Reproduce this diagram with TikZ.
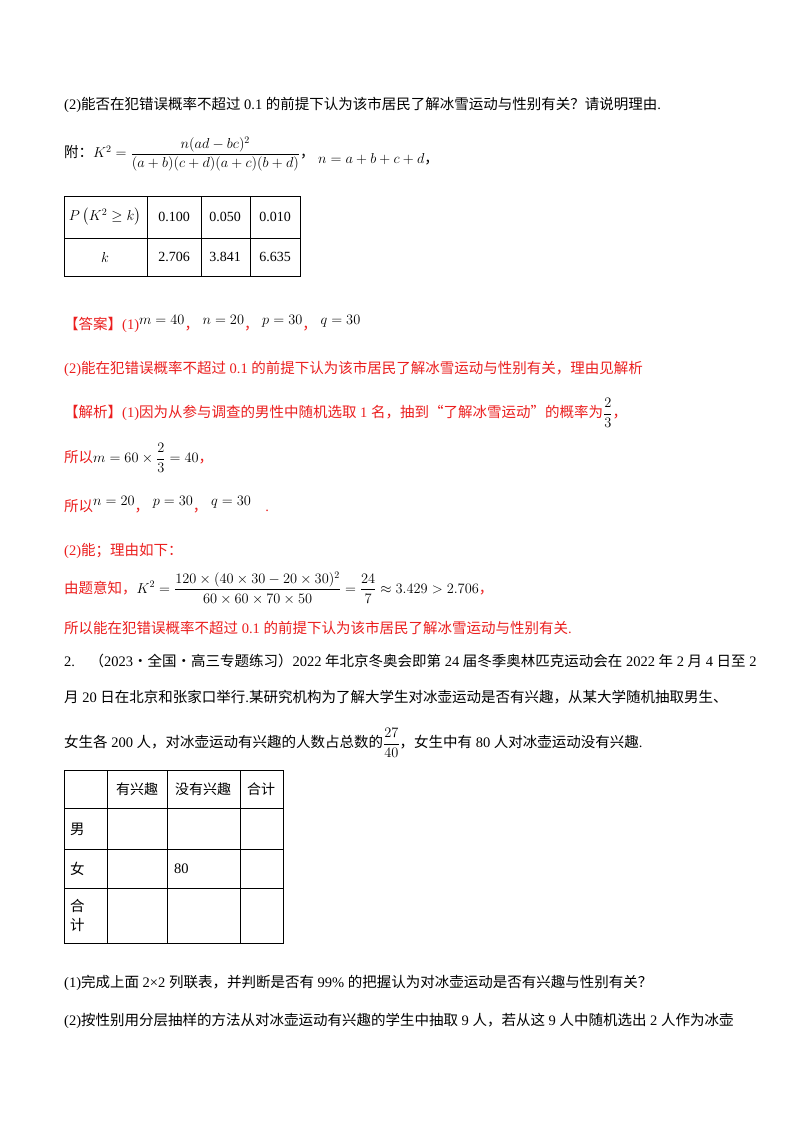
\documentclass[tikz,border=0pt]{standalone}
\usepackage{amsmath}
\usepackage{fontspec}
\setmainfont{Liberation Serif}
\newfontfamily\cjk{Noto Sans CJK SC}
\definecolor{ans}{RGB}{235,30,30}
\newcommand{\zh}[1]{{\cjk #1}}
\begin{document}
\begin{tikzpicture}[x=1pt,y=-1pt,
  t/.style={anchor=west,inner sep=0pt,font=\fontsize{14.5}{17}\selectfont},
  r/.style={t,text=ans},
  c/.style={inner sep=0pt,font=\fontsize{14}{16}\selectfont}]
\useasboundingbox (0,0) rectangle (800,1132);
\fill[white] (0,0) rectangle (800,1132);
\node[t] (l1) at (64,105) {(2)\zh{能否在犯错误概率不超过} 0.1 \zh{的前提下认为该市居民了解冰雪运动与性别有关？请说明理由}.};
\node[t] (l2) at (64,154) {\zh{附：}$K^2=\dfrac{n(ad-bc)^2}{(a+b)(c+d)(a+c)(b+d)}$\zh{，}\ \raisebox{-6pt}{$n=a+b+c+d$\zh{，}}};
% table 1
\draw[line width=0.8pt] (64,196) rectangle (300,276);
\draw (147,196)--(147,276) (201,196)--(201,276) (250,196)--(250,276) (64,238)--(300,238);
\node[c] (a1) at (105,217) {$P\left(K^2\geq k\right)$};
\node[c] (a2) at (174,217) {0.100};
\node[c] (a3) at (225,217) {0.050};
\node[c] (a4) at (275,217) {0.010};
\node[c] (b1) at (105,257) {$k$};
\node[c] (b2) at (174,257) {2.706};
\node[c] (b3) at (225,257) {3.841};
\node[c] (b4) at (275,257) {6.635};
\node[r] (ans) at (64,324) {\zh{【答案】}(1)\raisebox{5pt}{\textcolor{black}{$m=40$}}\zh{，}\ \raisebox{5pt}{\textcolor{black}{$n=20$}}\zh{，}\ \raisebox{5pt}{\textcolor{black}{$p=30$}}\zh{，}\ \raisebox{5pt}{\textcolor{black}{$q=30$}}};
\node[r] (a2l) at (64,369) {(2)\zh{能在犯错误概率不超过} 0.1 \zh{的前提下认为该市居民了解冰雪运动与性别有关，理由见解析}};
\node[r] (jx) at (64,413) {\zh{【解析】}(1)\zh{因为从参与调查的男性中随机选取} 1 \zh{名，抽到“了解冰雪运动”的概率为}\textcolor{black}{$\dfrac{2}{3}$}\zh{，}};
\node[r] (s1) at (64,458) {\zh{所以}\textcolor{black}{$m=60\times\dfrac{2}{3}=40$}\zh{，}};
\node[r] (s2) at (64,505) {\zh{所以}\raisebox{6pt}{\textcolor{black}{$n=20$}}\zh{，}\ \raisebox{6pt}{\textcolor{black}{$p=30$}}\zh{，}\ \raisebox{6pt}{\textcolor{black}{$q=30$}}\quad.};
\node[r] (s3) at (64,551) {(2)\zh{能；理由如下：}};
\node[r] (s4) at (64,588) {\zh{由题意知，}\textcolor{black}{$K^2=\dfrac{120\times(40\times30-20\times30)^2}{60\times60\times70\times50}=\dfrac{24}{7}\approx3.429>2.706$}\zh{，}};
\node[r] (s5) at (64,628) {\zh{所以能在犯错误概率不超过} 0.1 \zh{的前提下认为该市居民了解冰雪运动与性别有关}.};
\node[t] (q2) at (64,661) {2.\quad\zh{（}2023\zh{·全国·高三专题练习）}2022 \zh{年北京冬奥会即第} 24 \zh{届冬季奥林匹克运动会在} 2022 \zh{年} 2 \zh{月} 4 \zh{日至} 2};
\node[t] (q2b) at (64,697) {\zh{月} 20 \zh{日在北京和张家口举行}.\zh{某研究机构为了解大学生对冰壶运动是否有兴趣，从某大学随机抽取男生、}};
\node[t] (q2c) at (64,743) {\zh{女生各} 200 \zh{人，对冰壶运动有兴趣的人数占总数的}$\dfrac{27}{40}$\zh{，女生中有} 80 \zh{人对冰壶运动没有兴趣}.};
% table 2
\draw[line width=0.8pt] (64,770) rectangle (283,943);
\draw (107,770)--(107,943) (167,770)--(167,943) (240,770)--(240,943)
      (64,808)--(283,808) (64,849)--(283,849) (64,888)--(283,888);
\node[c] (h1) at (137,789) {\zh{有兴趣}};
\node[c] (h2) at (203,789) {\zh{没有兴趣}};
\node[c] (h3) at (261,789) {\zh{合计}};
\node[t] (m1) at (70,829) {\zh{男}};
\node[t] (m2) at (70,869) {\zh{女}};
\node[t] (v80) at (174,869) {80};
\node[t,align=left] (m3) at (70,915) {\zh{合}\\[2pt]\zh{计}};
\node[t] (p1) at (64,983) {(1)\zh{完成上面} 2×2 \zh{列联表，并判断是否有} 99\% \zh{的把握认为对冰壶运动是否有兴趣与性别有关？}};
\node[t] (p2) at (64,1021) {(2)\zh{按性别用分层抽样的方法从对冰壶运动有兴趣的学生中抽取} 9 \zh{人，若从这} 9 \zh{人中随机选出} 2 \zh{人作为冰壶}};
\end{tikzpicture}
\end{document}
